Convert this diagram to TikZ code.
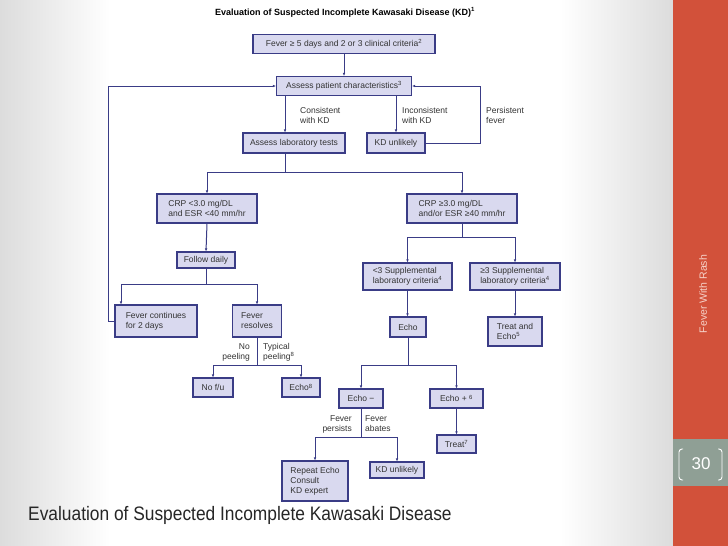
\documentclass[tikz,border=0pt]{standalone}
\usepackage{fontspec}
\setmainfont{Liberation Sans}
\newfontfamily\narrowsans[FakeStretch=0.89]{Liberation Sans}
\usetikzlibrary{arrows.meta,calc,positioning}
\definecolor{ink}{HTML}{3A3C86}
\definecolor{boxfill}{HTML}{D9D9EF}
\definecolor{sidebar}{HTML}{D2513A}
\definecolor{pagebox}{HTML}{8F9F95}
\definecolor{bgedge}{HTML}{DCDCDC}
\definecolor{sidetext}{HTML}{F6D3CA}
\definecolor{capt}{HTML}{262626}

\begin{document}
\begin{tikzpicture}[x=1pt,y=-1pt,>={Latex[length=3pt,width=2.6pt]},
  every node/.style={font=\fontsize{8.5}{10}\selectfont,text=black!80},
  kbox/.style={draw=ink,fill=boxfill,line width=1.1pt,inner sep=2pt,align=center},
  lbox/.style={kbox,align=left},
  link/.style={ink,line width=1pt},
  lab/.style={inner sep=0pt,align=left,anchor=west},
  rlab/.style={inner sep=0pt,align=right,anchor=east}]
\useasboundingbox (0,0) rectangle (728,546);
\fill[white] (0,0) rectangle (673,546);
\shade[left color=bgedge,right color=white] (0,0) rectangle (110,546);
\shade[left color=white,right color=bgedge] (560,0) rectangle (673,546);
\fill[sidebar] (673,0) rectangle (728,546);
\fill[pagebox] (673,439) rectangle (728,486);
\node[font=\bfseries\fontsize{9}{10}\selectfont,text=black] (title) at (345,12) {Evaluation of Suspected Incomplete Kawasaki Disease (KD)\textsuperscript{1}};
\node[kbox,minimum width=182pt,minimum height=19pt] (start) at (344,44) {Fever ≥ 5 days and 2 or 3 clinical criteria\textsuperscript{2}};
\node[kbox,minimum width=135pt,minimum height=19pt] (assess) at (344,86) {Assess patient characteristics\textsuperscript{3}};
\node[kbox,minimum width=102pt,minimum height=20pt] (labtests) at (294,143) {Assess laboratory tests};
\node[kbox,minimum width=58pt,minimum height=20pt] (kdno) at (396,143) {KD unlikely};
\node[lbox,minimum width=100pt,minimum height=29pt] (crplow) at (207,208.5) {CRP <3.0 mg/DL\\and ESR <40 mm/hr};
\node[lbox,minimum width=110pt,minimum height=29pt] (crphigh) at (462,208.5) {CRP ≥3.0 mg/DL\\and/or ESR ≥40 mm/hr};
\node[kbox,minimum width=58pt,minimum height=16pt] (follow) at (206,260) {Follow daily};
\node[lbox,minimum width=82pt,minimum height=32pt] (fevcont) at (156,321) {Fever continues\\for 2 days};
\node[lbox,minimum width=49pt,minimum height=32pt] (fevres) at (257,321) {Fever\\resolves};
\node[kbox,minimum width=40pt,minimum height=19pt] (nofu) at (213,387.5) {No f/u};
\node[kbox,minimum width=38pt,minimum height=19pt] (echoA) at (301,387.5) {Echo\textsuperscript{8}};
\node[lbox,minimum width=89pt,minimum height=27pt] (supplow) at (407.5,276.5) {<3 Supplemental\\laboratory criteria\textsuperscript{4}};
\node[lbox,minimum width=90pt,minimum height=27pt] (supphigh) at (515,276.5) {≥3 Supplemental\\laboratory criteria\textsuperscript{4}};
\node[kbox,minimum width=36pt,minimum height=20pt] (echo) at (408,327) {Echo};
\node[lbox,minimum width=54pt,minimum height=29pt] (treatecho) at (515,331.5) {Treat and\\Echo\textsuperscript{5}};
\node[kbox,minimum width=44pt,minimum height=19pt] (echoneg) at (361,398.5) {Echo −};
\node[kbox,minimum width=53pt,minimum height=19pt] (echopos) at (456.5,398.5) {Echo + \textsuperscript{6}};
\node[kbox,minimum width=39pt,minimum height=18pt] (treat) at (456.5,444) {Treat\textsuperscript{7}};
\node[lbox,minimum width=66pt,minimum height=40pt] (repeat) at (315,481) {Repeat Echo\\Consult\\KD expert};
\node[kbox,minimum width=54pt,minimum height=16pt] (kdnob) at (397,470) {KD unlikely};
\coordinate (cx) at (285,0);
\coordinate (lx) at (108,0);
\coordinate (rx) at (480,0);
\coordinate (fx) at (121,0);
\coordinate (s1) at (285,172);
\coordinate (s2) at (206,284);
\coordinate (s3) at (257,365);
\coordinate (s4) at (462,237);
\coordinate (s5) at (408,365);
\coordinate (s6) at (361,437);
\draw[link,->] (start.south) -- (assess.north);
\draw[link,->] (assess.south -| cx) -- (labtests.north -| cx);
\draw[link,->] (assess.south -| kdno) -- (kdno.north);
\draw[link,->] (fevcont.west) -- (fevcont.west -| lx) |- (assess.west);
\draw[link,->] (kdno.east) -- (kdno.east -| rx) |- (assess.east);
\draw[link] (labtests.south -| s1) -- (s1);
\draw[link,->] (s1) -| (crplow.north);
\draw[link,->] (s1) -| (crphigh.north);
\draw[link,->] (crplow.south) -- (follow.north);
\draw[link] (follow.south) -- (s2);
\draw[link,->] (s2) -| (fevcont.north -| fx);
\draw[link,->] (s2) -| (fevres.north);
\draw[link] (fevres.south) -- (s3);
\draw[link,->] (s3) -| (nofu.north);
\draw[link,->] (s3) -| (echoA.north);
\draw[link] (crphigh.south) -- (s4);
\draw[link,->] (s4) -| (supplow.north);
\draw[link,->] (s4) -| (supphigh.north);
\draw[link,->] (supplow.south) -- (supplow.south |- echo.north);
\draw[link,->] (supphigh.south) -- (treatecho.north);
\draw[link] (echo.south) -- (s5);
\draw[link,->] (s5) -| (echoneg.north);
\draw[link,->] (s5) -| (echopos.north);
\draw[link,->] (echopos.south) -- (treat.north);
\draw[link] (echoneg.south) -- (s6);
\draw[link,->] (s6) -| (repeat.north);
\draw[link,->] (s6) -| (kdnob.north);
\node[lab] (lconsist) at (300,115) {Consistent\\with KD};
\node[lab] (linconsist) at (402,115) {Inconsistent\\with KD};
\node[lab] (lpersist) at (486,115) {Persistent\\fever};
\node[rlab] (lnopeel) at (250,352) {No\\peeling};
\node[lab] (ltypical) at (263,352) {Typical\\peeling\textsuperscript{8}};
\node[rlab] (lpersists) at (352,424) {Fever\\persists};
\node[lab] (labates) at (365,424) {Fever\\abates};
\node[rotate=90,text=sidetext,font=\fontsize{10.5}{12}\selectfont] (side) at (703,294) {Fever With Rash};
\node[text=white,font=\fontsize{17}{20}\selectfont] (pagenum) at (701,464) {30};
\draw[white,line width=0.9pt,rounded corners=3pt] (683,449) -- (679,449) -- (679,480) -- (683,480);
\draw[white,line width=0.9pt,rounded corners=3pt] (718,449) -- (722,449) -- (722,480) -- (718,480);
\node[anchor=base west,inner sep=0pt,text=capt,font=\narrowsans\fontsize{19.5}{22}\selectfont] (caption) at (28,520) {Evaluation of Suspected Incomplete Kawasaki Disease};
\end{tikzpicture}
\end{document}
